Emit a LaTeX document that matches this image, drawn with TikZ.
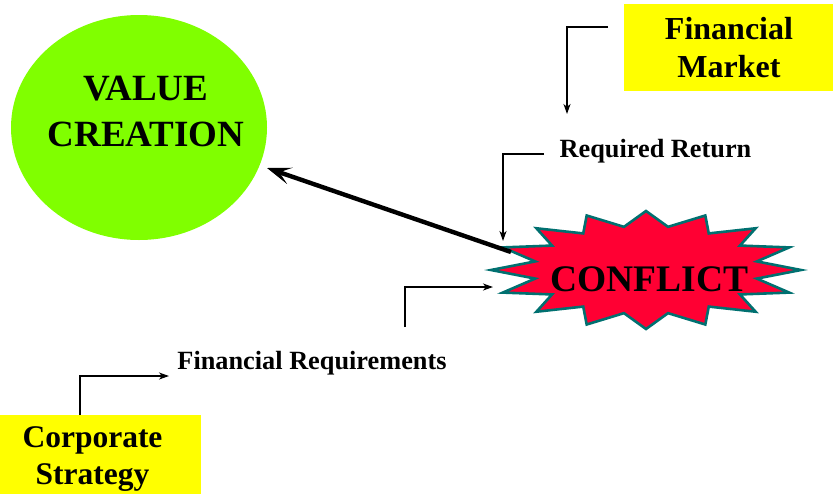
\documentclass[tikz,border=0pt]{standalone}
\usepackage{fontspec}
\setmainfont{Liberation Serif}
\usetikzlibrary{shapes.geometric,arrows.meta}
\definecolor{vcgreen}{HTML}{80FF00}
\definecolor{boxyellow}{HTML}{FFFF00}
\definecolor{starred}{HTML}{FF0033}
\definecolor{starteal}{HTML}{007070}
\tikzset{
  conn/.style={line width=2pt,-{Stealth[length=10pt,width=7pt,inset=3pt]}},
  bigarrow/.style={line width=4.4pt,-{Stealth[length=24pt,width=17pt,inset=11pt]}},
  ybox/.style={fill=boxyellow,inner sep=0pt,align=center},
  lbl/.style={inner sep=0pt,font=\fontsize{26.3}{30}\selectfont\bfseries},
}
\begin{document}
\begin{tikzpicture}[x=1pt,y=-1pt]
\useasboundingbox (0,0) rectangle (833,493);
% value creation ellipse
\node (vc) [ellipse,fill=vcgreen,minimum width=256pt,minimum height=225pt,inner sep=0pt] at (139,127.5) {};
\node (vctext) [inner sep=0pt,align=center,font=\fontsize{37}{46}\selectfont\bfseries] at (146,111.5) {VALUE\\CREATION};
% financial market
\node (fm) [ybox,minimum width=210pt,minimum height=87pt,font=\fontsize{32}{38}\selectfont\bfseries] at (729,47.5) {Financial\\Market};
% corporate strategy
\node (csbox) [ybox,minimum width=201pt,minimum height=80pt,anchor=north west] at (0,415) {};
\node (cs) [inner sep=0pt,align=center,font=\fontsize{31.5}{37}\selectfont\bfseries] at (92.5,459.5) {Corporate\\Strategy};
% starburst
\fill[starred,draw=starteal,line width=2.6pt,line join=miter]
  plot[samples at={0,...,31},variable=\i]
  ({646+(mod(\i,2)==0 ? 155 : 113)*cos(11.25*\i)},{270-(mod(\i,2)==0 ? 59 : 44)*sin(11.25*\i)}) -- cycle;
\node (conflict) [inner sep=0pt,font=\fontsize{37.5}{40}\selectfont\bfseries] at (649.5,279.5) {CONFLICT};
% labels
\node (rr) [lbl,anchor=base] at (655.5,157) {Required Return};
\node (fr) [lbl,anchor=base] at (312,369) {Financial Requirements};
% connector end points
\coordinate (fmout) at (608,27);
\coordinate (rrin) at (567,114);
\coordinate (rrout) at (544,154);
\coordinate (cfin1) at (503,241);
\coordinate (frout) at (405,327);
\coordinate (cfin2) at (493,287);
\coordinate (csout) at (80,415);
\coordinate (frin) at (169,376);
\coordinate (cfout) at (511,252);
\coordinate (vcin) at (267,168);
% connectors
\draw[conn] (fmout) -| (rrin);
\draw[conn] (rrout) -| (cfin1);
\draw[conn] (frout) |- (cfin2);
\draw[conn] (csout) |- (frin);
\draw[bigarrow] (cfout) -- (vcin);
\end{tikzpicture}
\end{document}
